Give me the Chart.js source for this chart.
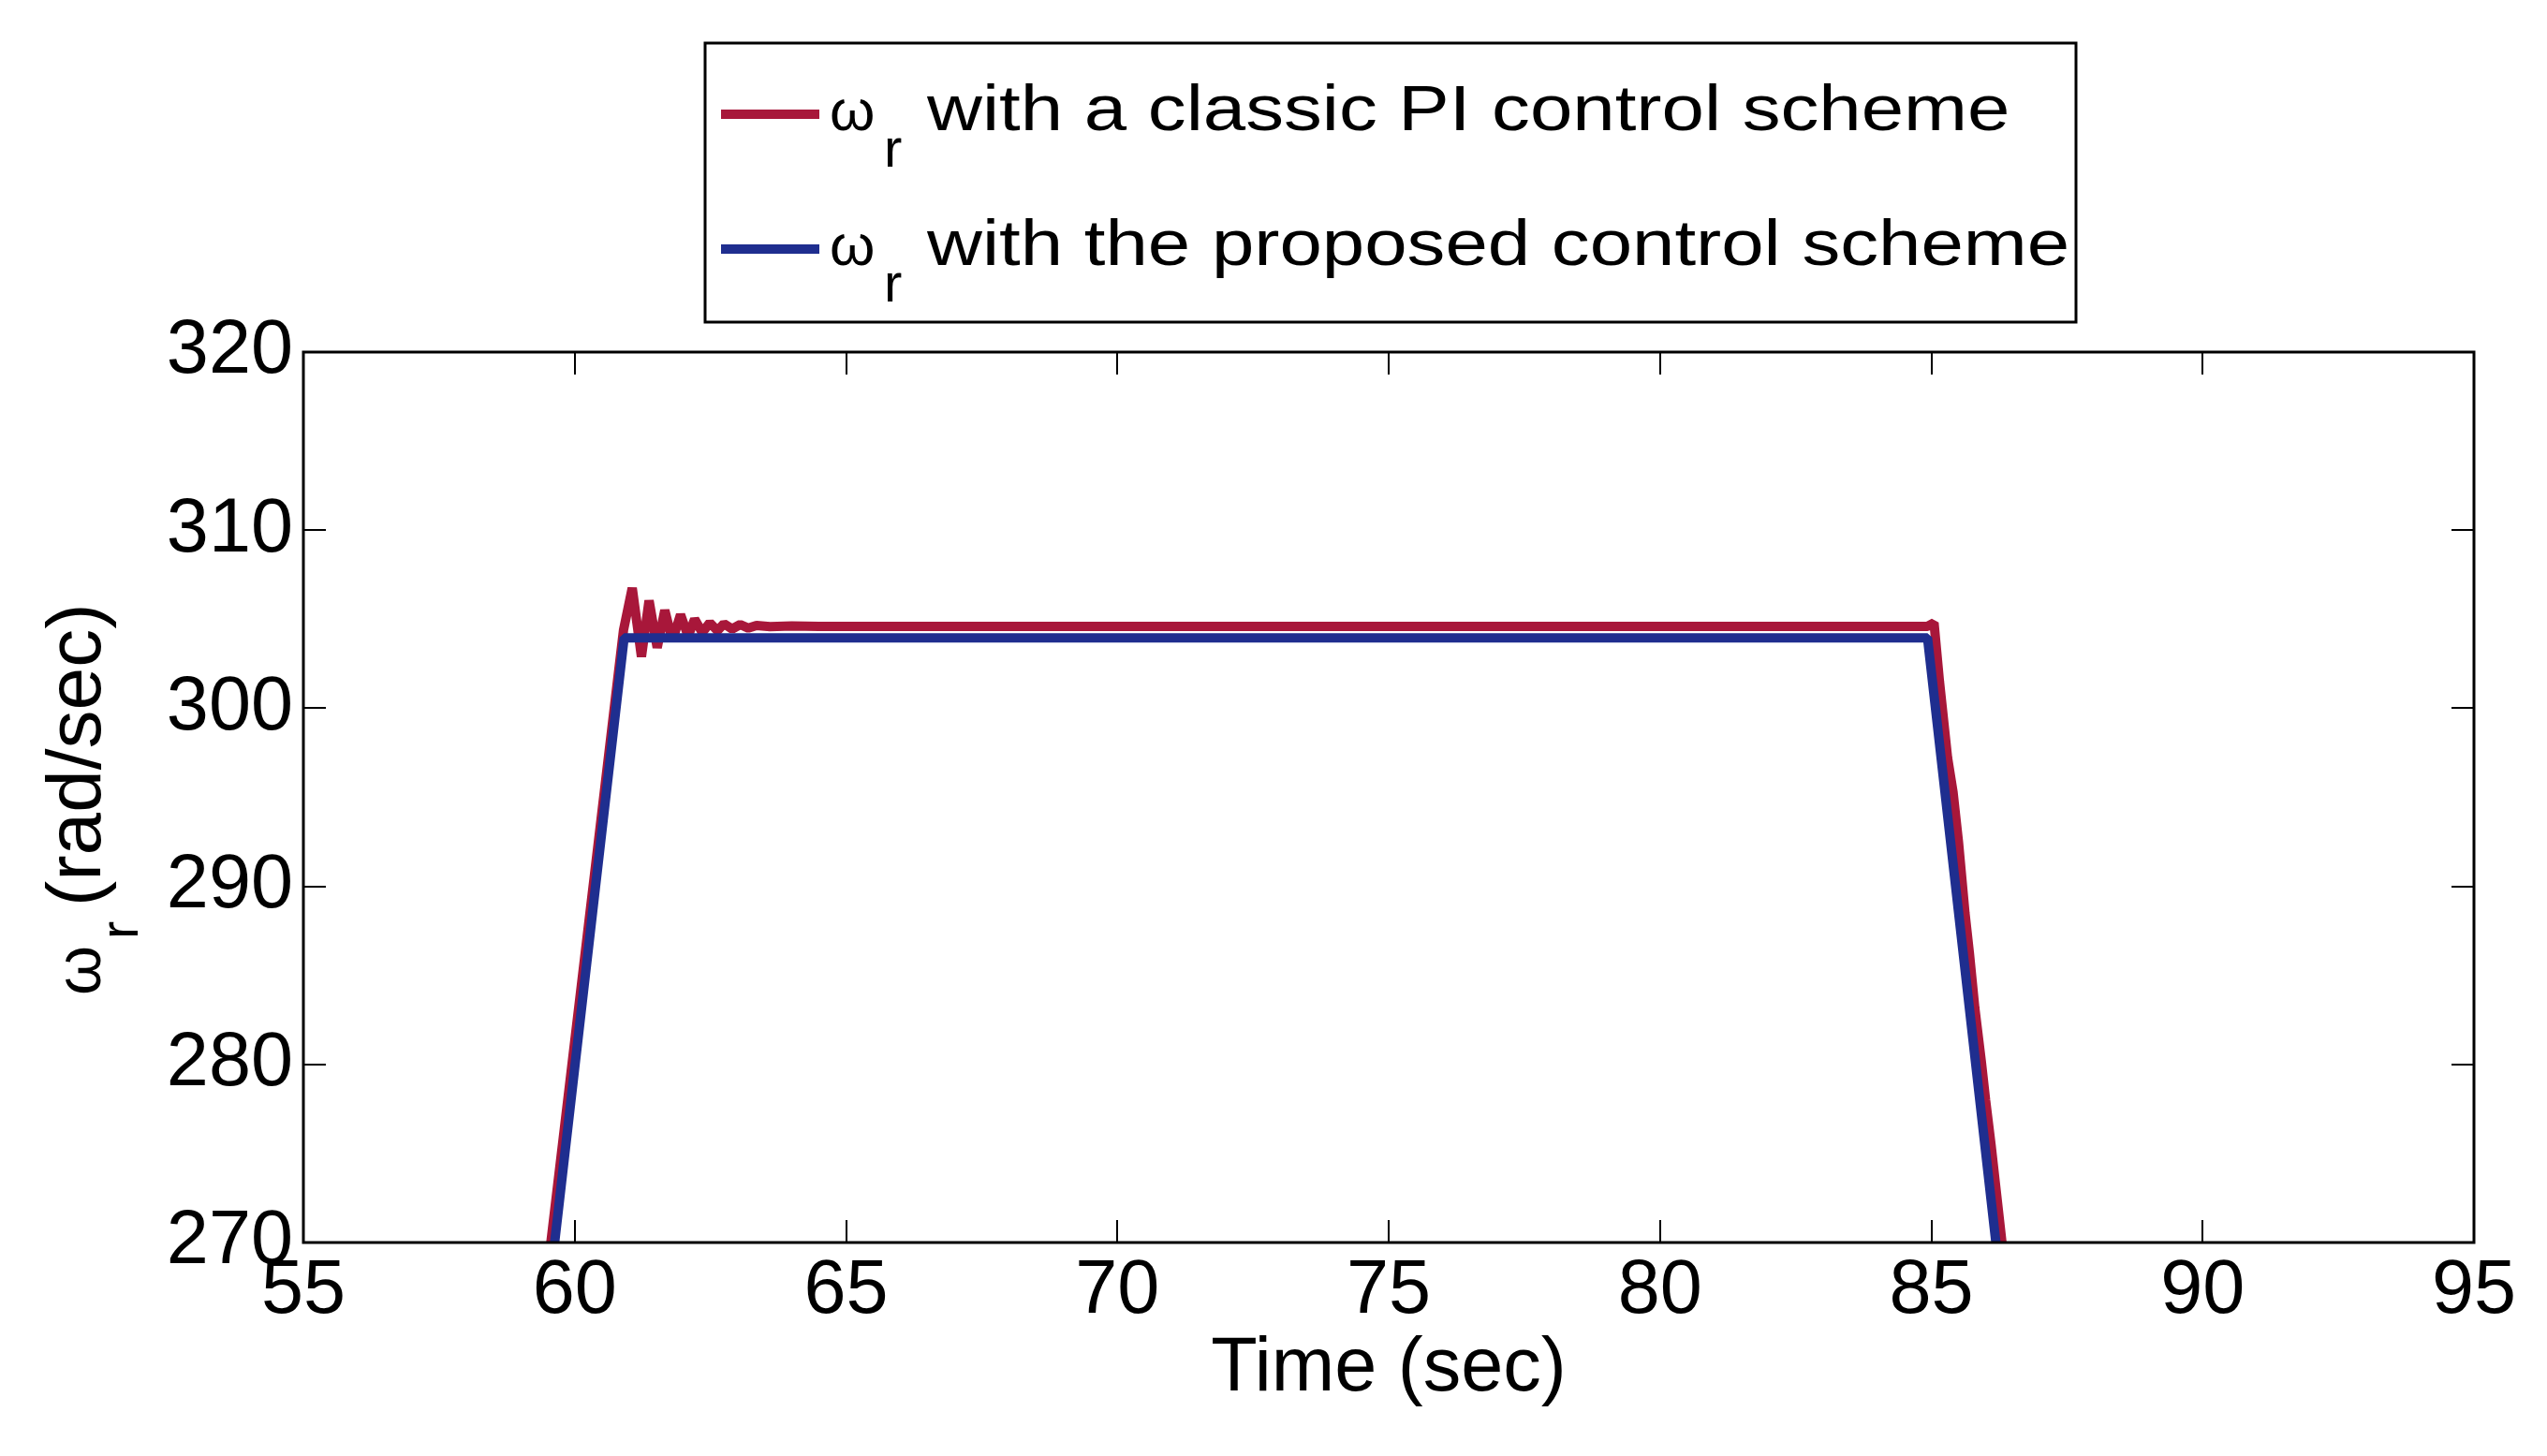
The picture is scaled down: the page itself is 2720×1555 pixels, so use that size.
<!DOCTYPE html>
<html>
<head>
<meta charset="utf-8">
<script src="https://cdn.jsdelivr.net/npm/chart.js@4.4.1/dist/chart.umd.min.js"></script>
<style>
  html, body { margin: 0; padding: 0; background: #fff; }
  #wrap { width: 2720px; height: 1555px; }
</style>
</head>
<body>
<div id="wrap"><canvas id="chart" width="2720" height="1555"></canvas></div>
<script>
// values (time in sec, speed in rad/sec)
const classicTime = [59.56, 60.9, 61.06, 61.23, 61.37, 61.52, 61.66, 61.8, 61.95, 62.09, 62.21, 62.35,
  62.49, 62.63, 62.75, 62.9, 63.05, 63.2, 63.35, 63.6, 64.0, 64.5, 65.0, 84.93, 85.05, 85.15, 85.3,
  85.4, 85.5, 85.62, 85.7, 85.8, 85.92, 86.0, 86.1, 86.32];
const classicSpeed = [270, 304.4, 306.75, 302.9, 306.05, 303.4, 305.5, 303.8, 305.25, 304.05, 305.0, 304.25,
  304.8, 304.35, 304.75, 304.45, 304.7, 304.5, 304.65, 304.58, 304.62, 304.6, 304.6, 304.6, 304.8, 301.5, 297.2,
  295.3, 292.5, 288.5, 286.3, 283.2, 280.2, 278, 275.5, 269.5];

const proposedTime = [59.63, 60.91, 84.93, 86.19];
const proposedSpeed = [270, 303.95, 303.95, 270];

const seriesNames = ["with a classic PI control scheme", "with the proposed control scheme"];
const seriesColors = ["#a8173a", "#1f2e8f"];

const xTicks = [55, 60, 65, 70, 75, 80, 85, 90, 95];
const yTicks = [270, 280, 290, 300, 310, 320];

const xTitle = "Time (sec)";
const yTitle = "(rad/sec)";
const omega = "\u03c9";
const sub = "r";

const FONT = "'Liberation Sans', Arial, sans-serif";

function toPoints(xs, ys) {
  return xs.map((x, i) => ({ x, y: ys[i] }));
}

// MATLAB style box with inward ticks on all four sides
const frameTicks = {
  id: "frameTicks",
  afterDatasetsDraw(chart) {
    const { ctx, chartArea: a, scales: { x, y } } = chart;
    const len = 24;
    ctx.save();
    ctx.strokeStyle = "#000";
    ctx.lineWidth = 2;
    ctx.beginPath();
    for (const v of xTicks) {
      const px = Math.round(x.getPixelForValue(v));
      ctx.moveTo(px, a.bottom);
      ctx.lineTo(px, a.bottom - len);
      ctx.moveTo(px, a.top);
      ctx.lineTo(px, a.top + len);
    }
    for (const v of yTicks) {
      const py = Math.round(y.getPixelForValue(v));
      ctx.moveTo(a.left, py);
      ctx.lineTo(a.left + len, py);
      ctx.moveTo(a.right, py);
      ctx.lineTo(a.right - len, py);
    }
    ctx.stroke();
    ctx.lineWidth = 3;
    ctx.strokeRect(a.left, a.top, a.right - a.left, a.bottom - a.top);
    ctx.restore();
  }
};

// y title with subscript, and the boxed legend
const labels = {
  id: "labels",
  afterDraw(chart) {
    const ctx = chart.ctx;
    ctx.save();
    ctx.fillStyle = "#000";
    ctx.textBaseline = "alphabetic";
    ctx.textAlign = "left";

    // y axis title, rotated
    ctx.save();
    ctx.translate(107, 1063);
    ctx.rotate(-Math.PI / 2);
    ctx.font = "68px " + FONT;
    ctx.fillText(omega, 0, 0);
    ctx.font = "58px " + FONT;
    ctx.fillText(sub, 60, 40);
    ctx.font = "82px " + FONT;
    ctx.fillText(yTitle, 95, 0);
    ctx.restore();

    // legend
    ctx.strokeStyle = "#000";
    ctx.lineWidth = 3;
    ctx.strokeRect(753, 46, 1464, 298);
    chart.data.datasets.forEach((ds, i) => {
      const base = 139 + i * 144;
      ctx.strokeStyle = ds.borderColor;
      ctx.lineWidth = 10;
      ctx.beginPath();
      ctx.moveTo(770, base - 17);
      ctx.lineTo(875, base - 17);
      ctx.stroke();
      ctx.font = "62px " + FONT;
      ctx.fillText(omega, 886, base);
      ctx.font = "58px " + FONT;
      ctx.fillText(sub, 944, base + 39);
      ctx.save();
      ctx.translate(990, base);
      ctx.scale(1.2, 1);
      ctx.font = "68px " + FONT;
      ctx.fillText(ds.label, 0, 0);
      ctx.restore();
    });
    ctx.restore();
  }
};

new Chart(document.getElementById("chart"), {
  type: "line",
  data: {
    datasets: [
      {
        label: seriesNames[0],
        data: toPoints(classicTime, classicSpeed),
        borderColor: seriesColors[0],
        borderWidth: 10,
        borderJoinStyle: "bevel",
        pointRadius: 0,
        tension: 0,
        fill: false,
        order: 2
      },
      {
        label: seriesNames[1],
        data: toPoints(proposedTime, proposedSpeed),
        borderColor: seriesColors[1],
        borderWidth: 10,
        borderJoinStyle: "bevel",
        pointRadius: 0,
        tension: 0,
        fill: false,
        order: 1
      }
    ]
  },
  options: {
    responsive: false,
    devicePixelRatio: 1,
    animation: false,
    events: [],
    layout: { padding: { top: 376, right: 78, bottom: 0, left: 0 } },
    plugins: {
      legend: { display: false },
      tooltip: { enabled: false }
    },
    scales: {
      x: {
        type: "linear",
        min: 55,
        max: 95,
        afterBuildTicks: s => { s.ticks = xTicks.map(v => ({ value: v })); },
        afterFit: s => { s.height = 228; },
        grid: { display: false, drawTicks: false },
        border: { display: false },
        ticks: { color: "#000", padding: 4, maxRotation: 0, autoSkip: false, font: { family: FONT, size: 81 } },
        title: { display: true, text: xTitle, color: "#000", padding: { top: 0, bottom: 44 }, font: { family: FONT, size: 81 } }
      },
      y: {
        type: "linear",
        min: 270,
        max: 320,
        afterBuildTicks: s => { s.ticks = yTicks.map(v => ({ value: v })); },
        afterFit: s => { s.width = 324; },
        grid: { display: false, drawTicks: false },
        border: { display: false },
        ticks: { color: "#000", padding: 11, autoSkip: false, font: { family: FONT, size: 81 } }
      }
    }
  },
  plugins: [frameTicks, labels]
});
</script>
</body>
</html>
